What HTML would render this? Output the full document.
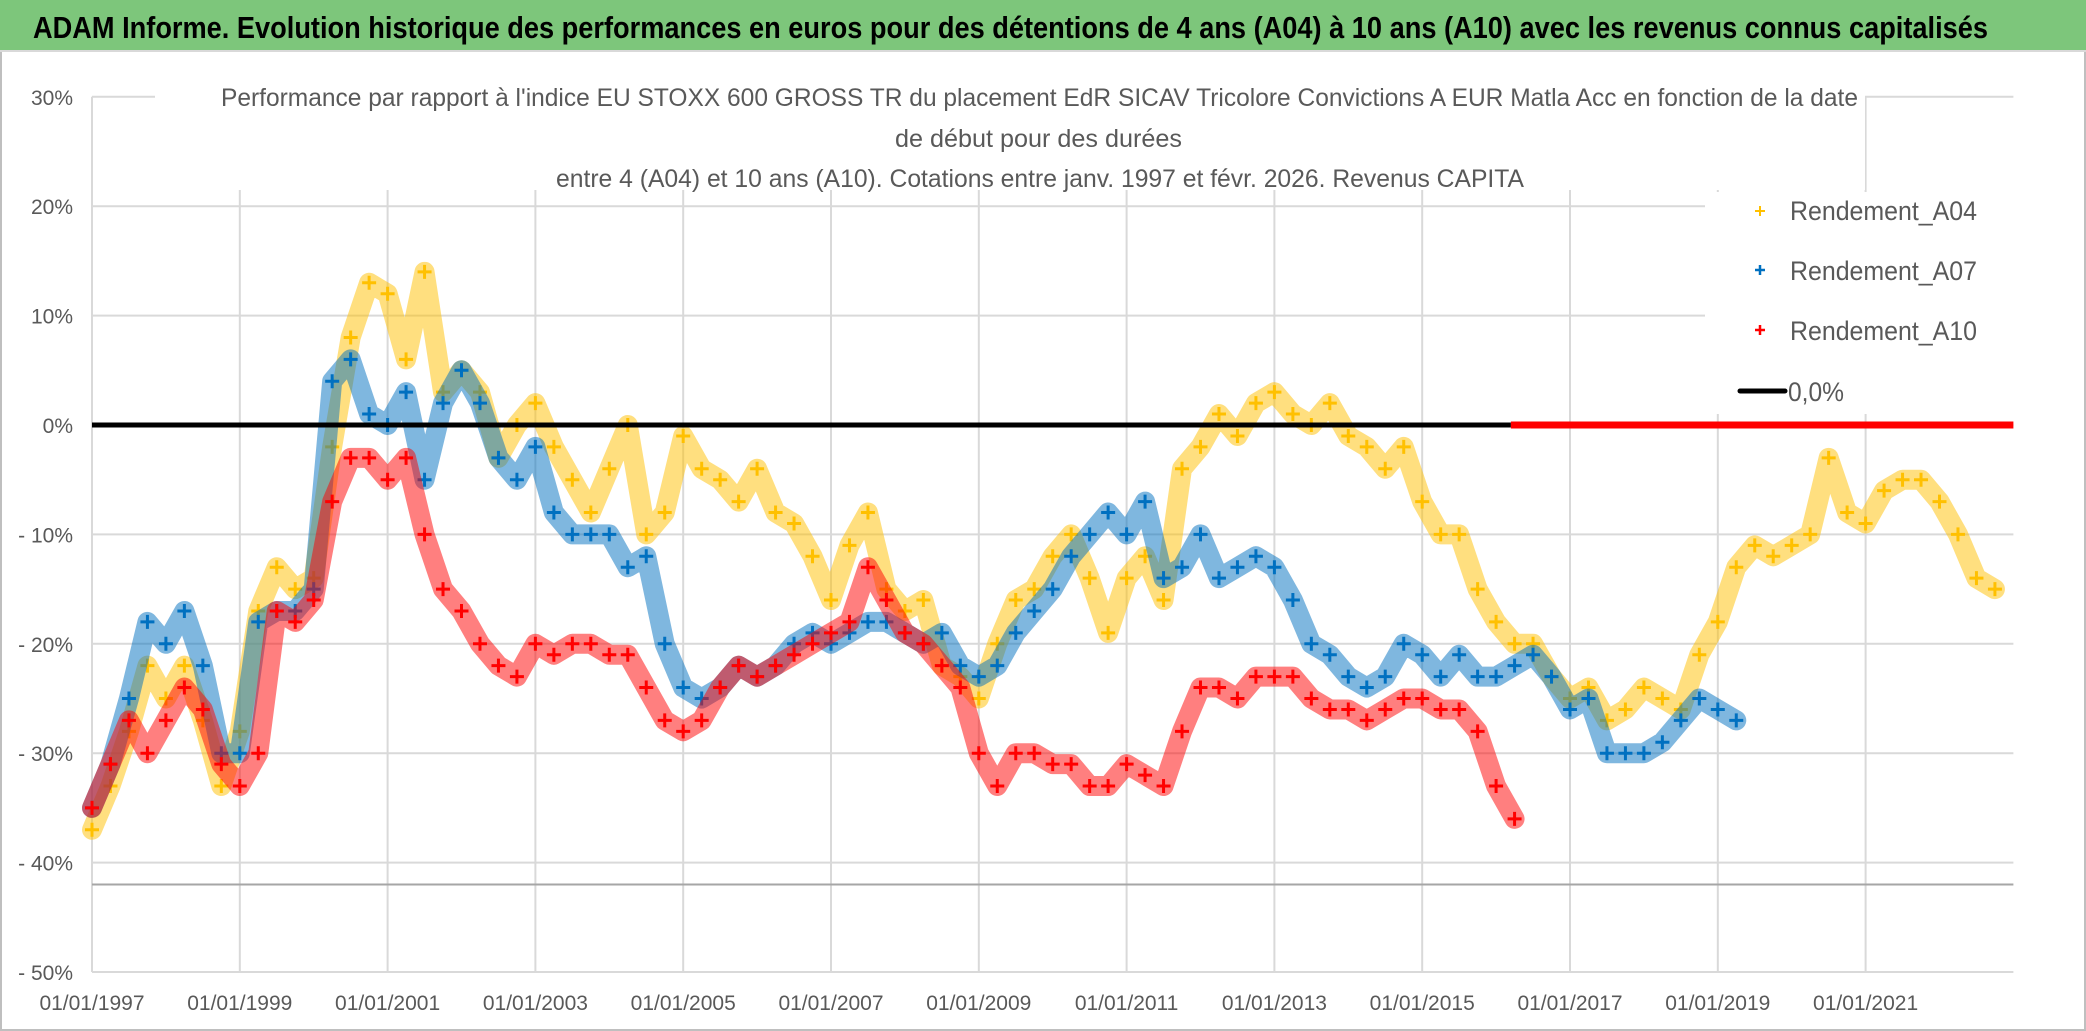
<!DOCTYPE html>
<html><head><meta charset="utf-8">
<style>
html,body{margin:0;padding:0;background:#fff;}
svg{display:block;}
text{font-family:"Liberation Sans Narrow","Liberation Sans",sans-serif;}
</style></head>
<body>
<svg id="chart" width="2086" height="1031" viewBox="0 0 2086 1031" xmlns="http://www.w3.org/2000/svg">
  <rect x="0" y="0" width="2086" height="1031" fill="#fff"/>
  <rect x="1" y="1" width="2084" height="1029" fill="none" stroke="#bfbfbf" stroke-width="2"/>
  <rect x="0" y="0" width="2086" height="50" fill="#7dc67b"/>
  <line x1="0" y1="51" x2="2086" y2="51" stroke="#d9d9d9" stroke-width="2"/>
  <text x="33" y="38" font-size="31" font-weight="bold" fill="#000" textLength="1955" lengthAdjust="spacingAndGlyphs">ADAM Informe. Evolution historique des performances en euros pour des détentions de 4 ans (A04) à 10 ans (A10) avec les revenus connus capitalisés</text>
  <g id="grid"></g>
  <g id="series"></g>
  <g id="axes"></g>
  <rect x="155" y="78" width="1710" height="112" fill="#fff"/>
  <text x="221" y="106" font-size="25" fill="#595959" textLength="1637" lengthAdjust="spacingAndGlyphs">Performance par rapport à l'indice EU STOXX 600 GROSS TR  du placement EdR SICAV Tricolore Convictions A EUR Matla Acc en fonction de la date</text>
  <text x="895" y="147" font-size="25" fill="#595959" textLength="287" lengthAdjust="spacingAndGlyphs">de début pour des durées</text>
  <text x="556" y="187" font-size="25" fill="#595959" textLength="968" lengthAdjust="spacingAndGlyphs">entre 4 (A04) et 10 ans (A10). Cotations entre janv. 1997 et févr. 2026. Revenus CAPITA</text>
  <g>
    <rect x="1705" y="192" width="310" height="222" fill="#fff"/>
    <g>
      <path d="M1755 211h10M1760 206v10" stroke="#ffc000" stroke-width="2"/>
      <text x="1790" y="220" font-size="27" fill="#595959" textLength="187" lengthAdjust="spacingAndGlyphs">Rendement_A04</text>
    </g>
    <g>
      <path d="M1755 270h10M1760 265v10" stroke="#0070c0" stroke-width="2.5"/>
      <text x="1790" y="280" font-size="27" fill="#595959" textLength="187" lengthAdjust="spacingAndGlyphs">Rendement_A07</text>
    </g>
    <g>
      <path d="M1755 330h10M1760 325v10" stroke="#ff0000" stroke-width="2.5"/>
      <text x="1790" y="340" font-size="27" fill="#595959" textLength="187" lengthAdjust="spacingAndGlyphs">Rendement_A10</text>
    </g>
    <g>
      <line x1="1740" y1="391" x2="1785" y2="391" stroke="#000" stroke-width="5" stroke-linecap="round"/>
      <text x="1788" y="401" font-size="27" fill="#595959" textLength="56" lengthAdjust="spacingAndGlyphs">0,0%</text>
    </g>
  </g>
</svg>
<script>
// ---- data ----
const yTicks = [30, 20, 10, 0, -10, -20, -30, -40, -50];
const yTickLabels = ["30%", "20%", "10%", "0%", "- 10%", "- 20%", "- 30%", "- 40%", "- 50%"];
const xTickYears = [1997, 1999, 2001, 2003, 2005, 2007, 2009, 2011, 2013, 2015, 2017, 2019, 2021];
const xTickLabels = ["01/01/1997","01/01/1999","01/01/2001","01/01/2003","01/01/2005","01/01/2007","01/01/2009","01/01/2011","01/01/2013","01/01/2015","01/01/2017","01/01/2019","01/01/2021"];
const startYear = 1997;
const stepYears = 0.25;
const a04Values = [-37,-33,-28,-22,-25,-22,-27,-33,-28,-17,-13,-15,-14,-2,8,13,12,6,14,3,5,3,-3,0,2,-2,-5,-8,-4,0,-10,-8,-1,-4,-5,-7,-4,-8,-9,-12,-16,-11,-8,-15,-17,-16,-22,-23,-25,-20,-16,-15,-12,-10,-14,-19,-14,-12,-16,-4,-2,1,-1,2,3,1,0,2,-1,-2,-4,-2,-7,-10,-10,-15,-18,-20,-20,-23,-25,-24,-27,-26,-24,-25,-26,-21,-18,-13,-11,-12,-11,-10,-3,-8,-9,-6,-5,-5,-7,-10,-14,-15];
const a07Values = [-35,-31,-25,-18,-20,-17,-22,-30,-30,-18,-17,-17,-15,4,6,1,0,3,-5,2,5,2,-3,-5,-2,-8,-10,-10,-10,-13,-12,-20,-24,-25,-24,-22,-23,-22,-20,-19,-20,-19,-18,-18,-19,-20,-19,-22,-23,-22,-19,-17,-15,-12,-10,-8,-10,-7,-14,-13,-10,-14,-13,-12,-13,-16,-20,-21,-23,-24,-23,-20,-21,-23,-21,-23,-23,-22,-21,-23,-26,-25,-30,-30,-30,-29,-27,-25,-26,-27];
const a10Values = [-35,-31,-27,-30,-27,-24,-26,-31,-33,-30,-17,-18,-16,-7,-3,-3,-5,-3,-10,-15,-17,-20,-22,-23,-20,-21,-20,-20,-21,-21,-24,-27,-28,-27,-24,-22,-23,-22,-21,-20,-19,-18,-13,-16,-19,-20,-22,-24,-30,-33,-30,-30,-31,-31,-33,-33,-31,-32,-33,-28,-24,-24,-25,-23,-23,-23,-25,-26,-26,-27,-26,-25,-25,-26,-26,-28,-33,-36];
const zeroStart = 2016.2;
const zeroEnd = 2023.0;
const refLineValue = 0;
const floorLineValue = -42;

// ---- axes ----
const X0 = 92, PX_PER_YEAR = 73.9, Y0 = 425, PX_PER_PCT = 10.94;
const xScale = yr => X0 + (yr - 1997) * PX_PER_YEAR;
const yScale = v => Y0 - v * PX_PER_PCT;
const plotRight = xScale(zeroEnd);
const NS = "http://www.w3.org/2000/svg";
function mk(tag, attrs, parent){ const e=document.createElementNS(NS,tag); for(const k in attrs) e.setAttribute(k,attrs[k]); parent.appendChild(e); return e; }
const grid = document.getElementById('grid');
const axes = document.getElementById('axes');
const series = document.getElementById('series');

yTicks.forEach((v,i)=>{
  const gl = mk('line',{x1:X0,x2:plotRight,y1:yScale(v),y2:yScale(v),stroke:'#d9d9d9','stroke-width':2},grid);
  
  
  const t = mk('text',{x:73,y:yScale(v)+8,'text-anchor':'end','font-size':21,fill:'#595959'},axes);
  t.textContent = yTickLabels[i];
  
  
});
xTickYears.forEach((yr,i)=>{
  const gl = mk('line',{x1:xScale(yr),x2:xScale(yr),y1:yScale(30),y2:yScale(-50),stroke:'#d9d9d9','stroke-width':2},grid);
  
  
  const t = mk('text',{x:xScale(yr),y:1010,'text-anchor':'middle','font-size':21,fill:'#595959'},axes);
  t.textContent = xTickLabels[i];
  
  
});
const fl = mk('line',{x1:X0,x2:plotRight,y1:yScale(floorLineValue),y2:yScale(floorLineValue),stroke:'#a6a6a6','stroke-width':2},grid);



function drawSeries(vals, color, name){
  const g = mk('g',{},series);
  
  
  const pts = vals.map((v,i)=>[xScale(startYear+i*stepYears), yScale(v)]);
  const pl = mk('polyline',{points:pts.map(p=>p.join(',')).join(' '),fill:'none',stroke:color,'stroke-width':20,'stroke-opacity':0.5,'stroke-linejoin':'round','stroke-linecap':'round'},g);
  
  
  pts.forEach(p=>{
    const m = mk('path',{d:`M${p[0]-7} ${p[1]}h14M${p[0]} ${p[1]-7}v14`,stroke:color,'stroke-width':3},g);
    
    
  });
}
drawSeries(a04Values,'#ffc000','series-a04');
drawSeries(a07Values,'#0070c0','series-a07');
drawSeries(a10Values,'#ff0000','series-a10');

const zl = mk('line',{x1:X0,x2:xScale(zeroStart),y1:yScale(refLineValue),y2:yScale(refLineValue),stroke:'#000','stroke-width':5},series);


const rz = mk('line',{x1:xScale(zeroStart),x2:xScale(zeroEnd),y1:yScale(0),y2:yScale(0),stroke:'#ff0000','stroke-width':7},series);


</script>
</body></html>
